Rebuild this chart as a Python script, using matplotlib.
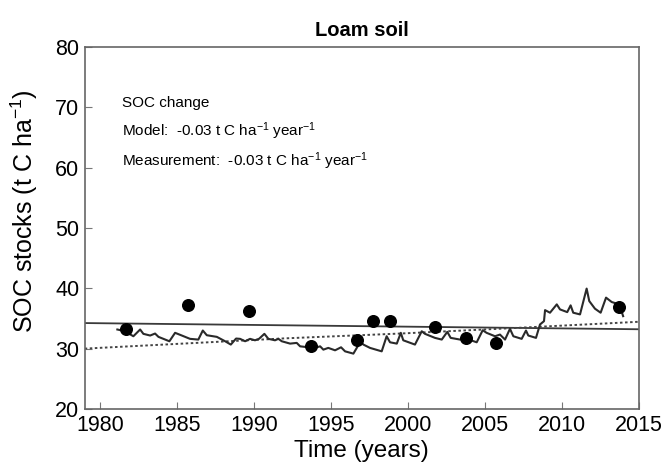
import numpy as np
import matplotlib
matplotlib.use('Agg')
import matplotlib.pyplot as plt

plt.rcParams['font.family'] = ['Liberation Sans', 'DejaVu Sans']
plt.rcParams['mathtext.fontset'] = 'custom'
plt.rcParams['mathtext.rm'] = 'Liberation Sans'
plt.rcParams['mathtext.it'] = 'Liberation Sans:italic'
plt.rcParams['mathtext.bf'] = 'Liberation Sans:bold'

# measured SOC stocks (t C / ha)
meas_years = [1981.7, 1985.7, 1989.7, 1993.7, 1996.7, 1997.75, 1998.8,
              2001.75, 2003.75, 2005.7, 2013.7]
meas_soc = [33.3, 37.3, 36.2, 30.5, 31.4, 34.55, 34.55, 33.6, 31.7, 30.9, 36.9]

# simulated SOC stocks
model_years = [1981.12, 1981.62, 1982.16, 1982.60, 1982.81, 1983.25, 1983.57, 1983.79,
               1984.50, 1984.87, 1985.31, 1985.84, 1986.38, 1986.67, 1986.93, 1987.58,
               1988.12, 1988.49, 1988.83, 1989.09, 1989.42, 1989.74, 1990.06, 1990.32,
               1990.67, 1990.93, 1991.36, 1991.58, 1991.80, 1992.34, 1992.77, 1992.99,
               1993.53, 1993.96, 1994.29, 1994.50, 1994.82, 1995.26, 1995.65, 1995.91,
               1996.45, 1996.73, 1996.88, 1997.10, 1997.53, 1998.29, 1998.61, 1998.83,
               1999.27, 1999.53, 1999.69, 2000.45, 2000.89, 2001.10, 2001.75, 2002.19,
               2002.55, 2002.77, 2003.38, 2003.81, 2004.14, 2004.46, 2004.85, 2005.10,
               2005.65, 2005.97, 2006.30, 2006.62, 2006.84, 2007.38, 2007.66, 2007.81,
               2008.31, 2008.57, 2008.83, 2008.90, 2009.22, 2009.66, 2009.87, 2010.34,
               2010.56, 2010.73, 2011.17, 2011.60, 2011.77, 2012.14, 2012.51, 2012.86,
               2013.23, 2013.72, 2013.97]
model_soc = [33.17, 32.88, 32.05, 33.17, 32.45, 32.17, 32.50, 31.95,
             31.22, 32.62, 32.17, 31.62, 31.50, 33.00, 32.22, 31.95,
             31.22, 30.67, 31.67, 31.62, 31.22, 31.62, 31.38, 31.62,
             32.45, 31.62, 31.38, 31.62, 31.22, 30.83, 30.95, 30.38,
             30.22, 30.12, 30.38, 29.83, 30.12, 29.72, 30.22, 29.55,
             29.17, 30.38, 31.22, 30.67, 30.12, 29.55, 32.05, 31.05,
             30.83, 32.62, 31.38, 30.67, 32.88, 32.45, 31.78, 31.50,
             32.78, 31.78, 31.50, 31.78, 31.33, 31.05, 33.05, 32.62,
             32.05, 32.33, 31.50, 33.28, 32.05, 31.62, 33.00, 32.17,
             31.78, 34.00, 34.55, 36.38, 35.95, 37.33, 36.50, 36.05,
             37.17, 35.95, 35.67, 39.95, 37.88, 36.62, 35.95, 38.45,
             37.72, 37.33, 35.38]

# model trend (dotted)
trend_years = [1979, 1992, 1999.5, 2006, 2015]
trend_soc = [30.0, 31.7, 32.5, 33.3, 34.45]

x_ticks = [1980, 1985, 1990, 1995, 2000, 2005, 2010, 2015]
y_ticks = [20, 30, 40, 50, 60, 70, 80]

fig = plt.figure(figsize=(6.67, 4.69), dpi=100)
ax = fig.add_axes([0.127, 0.128, 0.831, 0.772])

# linear fit of the measurements
coef = np.polyfit(meas_years, meas_soc, 1)
fit_x = np.array([1979, 2015])
ax.plot(fit_x, np.polyval(coef, fit_x), color='#3a3a3a', lw=1.3, zorder=2)
ax.plot(trend_years, trend_soc, color='#444444', lw=1.4, ls=(0, (1.3, 1.3)), zorder=2)
ax.plot(model_years, model_soc, color='#2a2a2a', lw=1.5, zorder=3)
ax.scatter(meas_years, meas_soc, s=70, color='black', zorder=4)

ax.set_xlim(1979, 2015)
ax.set_ylim(20, 80)
ax.set_xticks(x_ticks)
ax.set_yticks(y_ticks)
ax.tick_params(direction='in', length=5, width=0.8, color='#777777',
               labelsize=15.5, pad=4, top=False, right=False)
for s in ax.spines.values():
    s.set_color('#666666')
    s.set_linewidth(1.2)

ax.set_xlabel('Time (years)', fontsize=17.5)
ax.xaxis.set_label_coords(0.5, -0.085)
ax.set_ylabel('SOC stocks (t C ha$^{-1}$)', fontsize=18)
ax.yaxis.set_label_coords(-0.08, 0.545)
ax.set_title('Loam soil', fontsize=14.5, fontweight='bold', pad=8)

ax.text(1981.43, 70.7, 'SOC change', fontsize=11, va='center')
ax.text(1981.43, 66.0, 'Model:  -0.03 t C ha$^{-1}$ year$^{-1}$', fontsize=11, va='center')
ax.text(1981.43, 61.0, 'Measurement:  -0.03 t C ha$^{-1}$ year$^{-1}$', fontsize=11, va='center')

fig.savefig('out.png', dpi=100)
